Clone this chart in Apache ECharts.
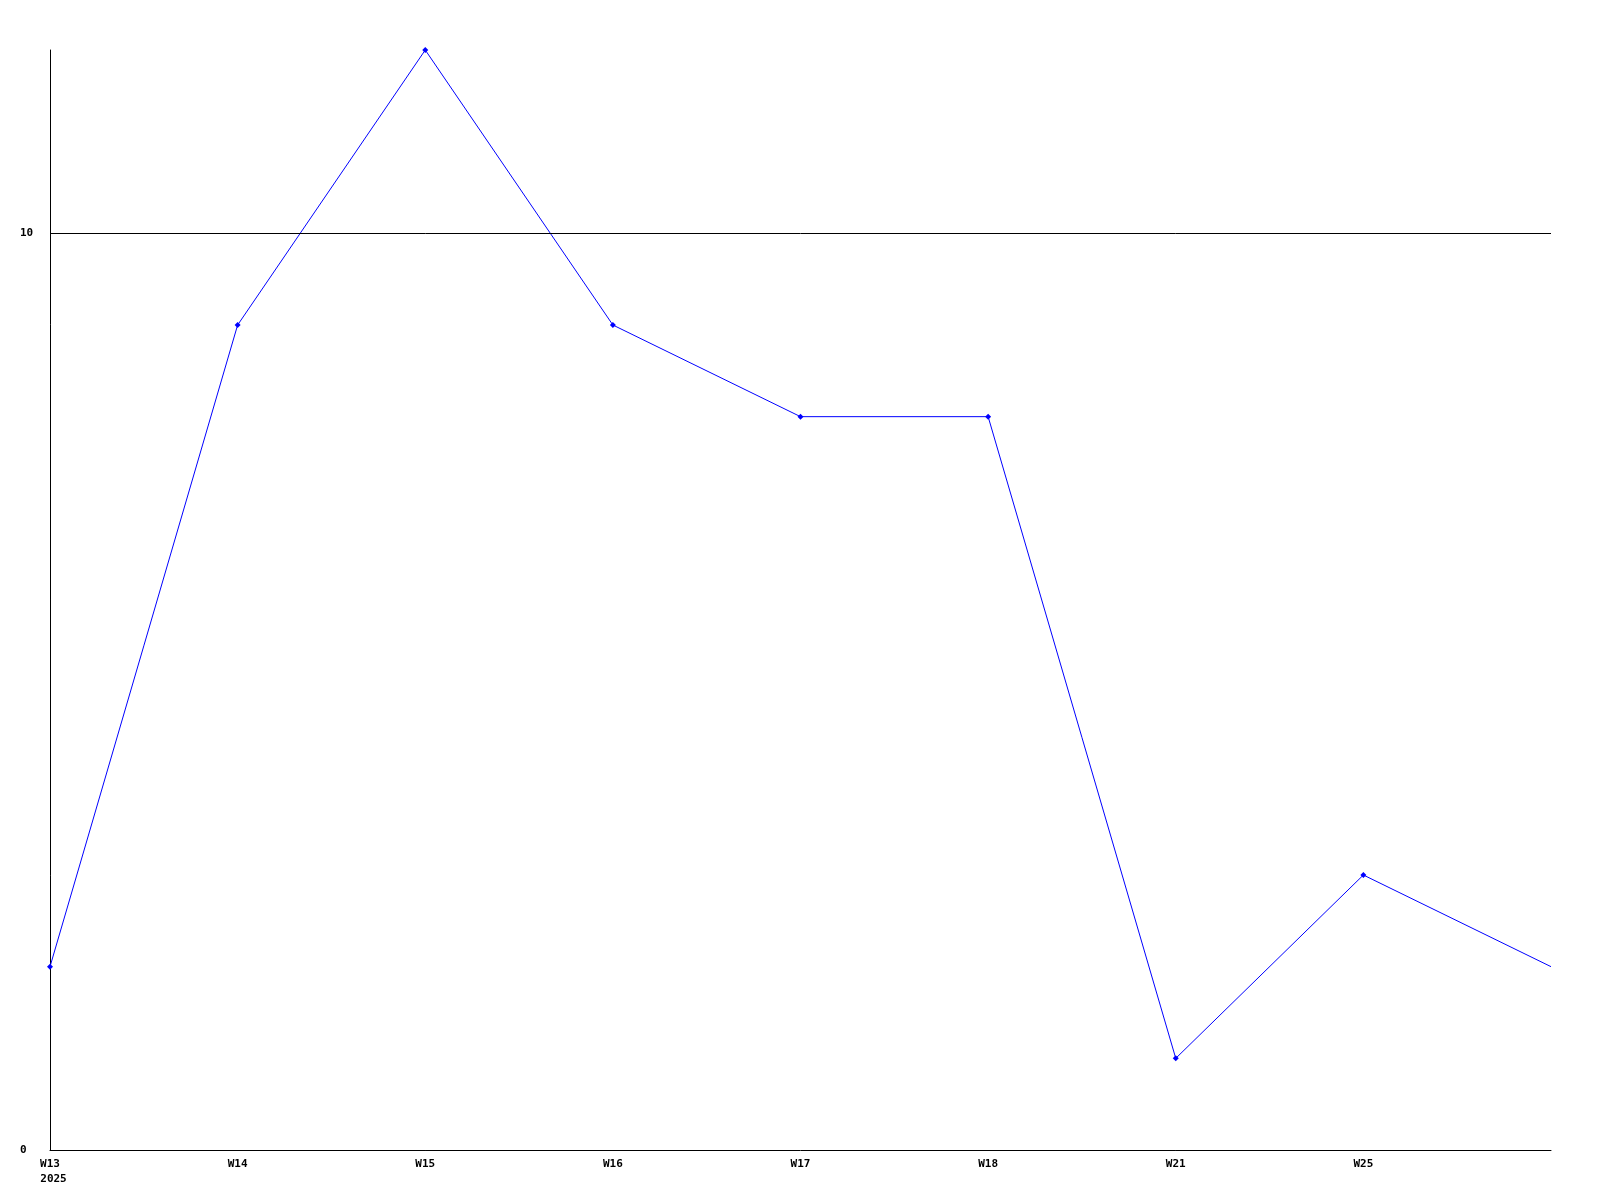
<!DOCTYPE html>
<html>
<head>
<meta charset="utf-8">
<script src="https://cdn.jsdelivr.net/npm/echarts@6/dist/echarts.min.js"></script>
<style>html,body{margin:0;padding:0;background:#fff;}#c{width:1600px;height:1200px;}</style>
</head>
<body>
<div id="c"></div>
<script>
var categories = ['W13', 'W14', 'W15', 'W16', 'W17', 'W18', 'W21', 'W25', ''];
var values = [2, 9, 12, 9, 8, 8, 1, 3, 2];
var yearLabel = '2025';
var yTickLabels = [0, 10];
var referenceLine = 10;

var chart = echarts.init(document.getElementById('c'), null, {renderer: 'canvas'});
var font = 'DejaVu Sans Mono';
var seriesData = values.map(function (v, i) {
  return i === values.length - 1 ? {value: v, symbol: 'none'} : v;
});
chart.setOption({
  backgroundColor: '#ffffff',
  animation: false,
  grid: {left: 50, right: 49, top: 50, bottom: 50},
  xAxis: {
    type: 'category',
    data: categories,
    boundaryGap: false,
    axisLine: {lineStyle: {color: '#000', width: 1}},
    axisTick: {show: false},
    splitLine: {show: false},
    axisLabel: {
      interval: 0,
      margin: 7,
      color: '#000',
      fontFamily: font,
      fontWeight: 'bold',
      fontSize: 11,
      lineHeight: 15,
      formatter: function (v, i) {
        if (i === 0) return '{p| }{t|' + v + '}{s| }\n{p| }{t|' + yearLabel + '}';
        return v;
      },
      rich: {
        p: {width: 7, fontFamily: font, fontSize: 11, lineHeight: 15},
        s: {width: 7, fontFamily: font, fontSize: 11, lineHeight: 15},
        t: {fontFamily: font, fontWeight: 'bold', fontSize: 11, lineHeight: 15, color: '#000'}
      }
    }
  },
  yAxis: {
    type: 'value',
    min: 0,
    max: 12,
    interval: 10,
    axisLine: {show: true, lineStyle: {color: '#000', width: 1}},
    axisTick: {show: false},
    splitLine: {show: false},
    axisLabel: {
      align: 'left',
      margin: 30,
      color: '#000',
      fontFamily: font,
      fontWeight: 'bold',
      fontSize: 11,
      formatter: function (v) { return yTickLabels.indexOf(v) >= 0 ? String(v) : ''; }
    }
  },
  series: [{
    type: 'line',
    data: seriesData,
    symbol: 'diamond',
    symbolSize: 6,
    showAllSymbol: true,
    lineStyle: {color: '#0000ff', width: 1},
    itemStyle: {color: '#0000ff'},
    markLine: {
      silent: true,
      symbol: 'none',
      label: {show: false},
      lineStyle: {color: '#000', width: 1, type: 'solid'},
      data: [{yAxis: referenceLine}]
    }
  }]
});
</script>
</body>
</html>
